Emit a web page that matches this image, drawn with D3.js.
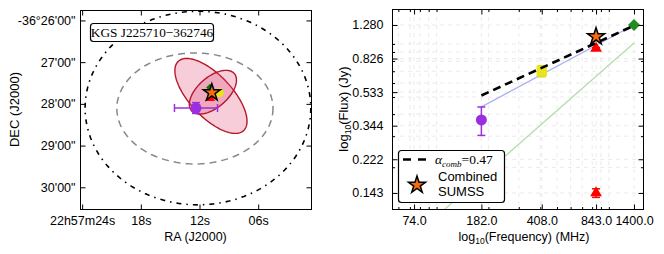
<!DOCTYPE html>
<html><head><meta charset="utf-8">
<script src="https://cdn.jsdelivr.net/npm/d3@7"></script>
<style>body{margin:0;background:#fff}svg{display:block}</style>
</head><body>
<svg id="c" width="664" height="254"></svg>
<script>
// ---------- Left panel data (RA seconds of 22h57m, Dec arcmin of -36°) ----------
const raTickVals = [24, 18, 12, 6];
const raTickLabels = ["22h57m24s", "18s", "12s", "06s"];
const decTickVals = [26, 27, 28, 29, 30];
const decTickLabels = ["-36°26'00\"", "27'00\"", "28'00\"", "29'00\"", "30'00\""];
const sourceName = "KGS J225710\u2212362746";
// ellipses: [raCentre, decCentre, semiMajor', semiMinor', angle deg]
const searchCircle = [12.16, 28.10, 2.32, 2.32, 0];
const beamEllipse = [12.47, 28.11, 1.605, 1.33, 0];
const pinkEllipses = [[10.83, 27.81, 1.07, 0.46, 53], [10.63, 27.72, 0.63, 0.335, -49]];
const posPurple = {ra: 12.36, dec: 28.10, raErr: 2.2, decErr: 0.13};
const posYellow = {ra: 9.98, dec: 27.73};
const posRed = {ra: 10.93, dec: 27.86};
const posGreen = {ra: 10.93, dec: 27.61};
const posStar = {ra: 10.74, dec: 27.73};

// ---------- Right panel data ----------
const freqTicks = [74.0, 182.0, 408.0, 843.0, 1400.0];
const fluxTicks = [0.143, 0.222, 0.344, 0.533, 0.826, 1.280];
const freqMinor = [60,70,80,90,100,200,300,400,500,600,700,800,900,1000];
const fluxMinor = [0.2,0.3,0.4,0.5,0.6,0.7,0.8,0.9,1.0];
const purpleFreq = 182, purpleFlux = 0.371, purpleErr = 0.068;
const yellowFreq = 408, yellowFlux = 0.702, yellowErr = 0.05;
const redFreq = [843, 843], redFlux = [0.944, 0.143], redErr = [0.01, 0.008];
const starFreq = 843, starFlux = 1.10;
const greenFreq = 1400, greenFlux = 1.28;
const fitFreq = [182, 1400], fitFlux = [0.51, 1.27];        // alpha_comb dashed
const blueFreq = [182, 1400], blueFlux = [0.44, 1.28];
const lgreenFreq = [74, 1400], lgreenFlux = [0.0815, 1.012];
const alphaText = "0.47";

const svg = d3.select("#c");
const SANS = "'Liberation Sans', Arial, sans-serif";
const SERIF = "'Liberation Serif', 'DejaVu Serif', serif";
const FS = 12.5;

// ================= LEFT PANEL =================
const L = {l: 80, r: 311, t: 10, b: 209};
const xL = d3.scaleLinear().domain([24.22, 0.6]).range([L.l, L.r]);
const yL = d3.scaleLinear().domain([25.75, 30.52]).range([L.t, L.b]);
const arcPerSec = 0.25 * Math.cos((36 + 28 / 60) * Math.PI / 180);

svg.append("clipPath").attr("id", "clipL").append("rect")
  .attr("x", L.l).attr("y", L.t).attr("width", L.r - L.l).attr("height", L.b - L.t);
const gL = svg.append("g").attr("clip-path", "url(#clipL)");

function ellPts(e) {
  const [ra, dec, a, b, ang] = e, th = ang * Math.PI / 180, pts = [];
  for (let i = 0; i <= 180; i++) {
    const t = i / 180 * 2 * Math.PI;
    const x = a * Math.cos(t) * Math.cos(th) - b * Math.sin(t) * Math.sin(th);
    const y = a * Math.cos(t) * Math.sin(th) + b * Math.sin(t) * Math.cos(th);
    pts.push([xL(ra - x / arcPerSec), yL(dec + y)]);
  }
  return pts;
}
const lineGen = d3.line();
gL.append("path").attr("d", lineGen(ellPts(searchCircle)))
  .attr("fill", "none").attr("stroke", "#000").attr("stroke-width", 1.6)
  .attr("stroke-dasharray", "5,5,1.5,5");
gL.append("path").attr("d", lineGen(ellPts(beamEllipse)))
  .attr("fill", "none").attr("stroke", "#888").attr("stroke-width", 1.5)
  .attr("stroke-dasharray", "7,5");
pinkEllipses.forEach(e => {
  gL.append("path").attr("d", lineGen(ellPts(e)) + "Z")
    .attr("fill", "rgb(222,70,115)").attr("fill-opacity", 0.27)
    .attr("stroke", "#b5172a").attr("stroke-width", 1.4);
});
// markers
gL.append("circle").attr("cx", xL(posYellow.ra)).attr("cy", yL(posYellow.dec)).attr("r", 4.5).attr("fill", "#e8e810");
gL.append("path").attr("d", d3.symbol(d3.symbolTriangle, 45)())
  .attr("transform", `translate(${xL(posRed.ra)},${yL(posRed.dec)})`).attr("fill", "red");
gL.append("path").attr("d", d3.symbol(d3.symbolSquare, 30)())
  .attr("transform", `translate(${xL(posGreen.ra)},${yL(posGreen.dec)}) rotate(45)`).attr("fill", "green");
gL.append("path").attr("d", d3.symbol(d3.symbolStar, 90)())
  .attr("transform", `translate(${xL(posStar.ra)},${yL(posStar.dec)})`)
  .attr("fill", "#f46d0e").attr("stroke", "#000").attr("stroke-width", 1.5);
// purple with error bars
const PUR = "#9a2fe0";
{
  const cx = xL(posPurple.ra), cy = yL(posPurple.dec);
  const x1 = xL(posPurple.ra + posPurple.raErr), x2 = xL(posPurple.ra - posPurple.raErr);
  const y1 = yL(posPurple.dec - posPurple.decErr), y2 = yL(posPurple.dec + posPurple.decErr);
  const g = gL.append("g").attr("stroke", PUR).attr("stroke-width", 1.5);
  g.append("line").attr("x1", x1).attr("x2", x2).attr("y1", cy).attr("y2", cy);
  g.append("line").attr("x1", x1).attr("x2", x1).attr("y1", cy - 4).attr("y2", cy + 4);
  g.append("line").attr("x1", x2).attr("x2", x2).attr("y1", cy - 4).attr("y2", cy + 4);
  g.append("line").attr("x1", cx).attr("x2", cx).attr("y1", y1).attr("y2", y2);
  g.append("line").attr("x1", cx - 4).attr("x2", cx + 4).attr("y1", y1).attr("y2", y1);
  g.append("line").attr("x1", cx - 4).attr("x2", cx + 4).attr("y1", y2).attr("y2", y2);
  gL.append("circle").attr("cx", cx).attr("cy", cy).attr("r", 5.5).attr("fill", PUR);
}
// title box
{
  const g = svg.append("g");
  g.append("rect").attr("x", 90.5).attr("y", 23.5).attr("width", 123).attr("height", 18).attr("rx", 3)
    .attr("fill", "#fff").attr("stroke", "#000").attr("stroke-width", 1.2);
  g.append("text").attr("x", 152).attr("y", 37).attr("text-anchor", "middle")
    .attr("font-family", SERIF).attr("font-size", 13.3).text(sourceName);
}
// frame & ticks
function frame(box) {
  svg.append("rect").attr("x", box.l + 0.5).attr("y", box.t + 0.5)
    .attr("width", box.r - box.l).attr("height", box.b - box.t)
    .attr("fill", "none").attr("stroke", "#000").attr("stroke-width", 1);
}
frame(L);
{
  const axB = d3.axisBottom(xL).tickValues(raTickVals).tickFormat((d, i) => raTickLabels[i]).tickSizeInner(-5).tickSizeOuter(0).tickPadding(7);
  const axT = d3.axisTop(xL).tickValues(raTickVals).tickFormat("").tickSizeInner(-5).tickSizeOuter(0);
  const axLft = d3.axisLeft(yL).tickValues(decTickVals).tickFormat((d, i) => decTickLabels[i]).tickSizeInner(-5).tickSizeOuter(0).tickPadding(5);
  const axR = d3.axisRight(yL).tickValues(decTickVals).tickFormat("").tickSizeInner(-5).tickSizeOuter(0);
  const style = g => { g.select(".domain").remove(); g.selectAll("text").attr("font-family", SANS).attr("font-size", FS).attr("fill", "#000"); };
  svg.append("g").attr("transform", `translate(0,${L.b + 0.5})`).call(axB).call(style);
  svg.append("g").attr("transform", `translate(0,${L.t + 0.5})`).call(axT).call(style);
  svg.append("g").attr("transform", `translate(${L.l + 0.5},0)`).call(axLft).call(style);
  svg.append("g").attr("transform", `translate(${L.r + 0.5},0)`).call(axR).call(style);
}
svg.append("text").attr("x", (L.l + L.r) / 2).attr("y", 241).attr("text-anchor", "middle")
  .attr("font-family", SANS).attr("font-size", 12.5).text("RA (J2000)");
svg.append("text").attr("transform", `translate(19,${(L.t + L.b) / 2}) rotate(-90)`).attr("text-anchor", "middle")
  .attr("font-family", SANS).attr("font-size", 13).text("DEC (J2000)");

// ================= RIGHT PANEL =================
const R = {l: 392, r: 643, t: 9, b: 209};
const xR = d3.scaleLog().domain([55.1, 1579]).range([R.l, R.r]);
const yR = d3.scaleLog().domain([0.116, 1.577]).range([R.b, R.t]);
svg.append("clipPath").attr("id", "clipR").append("rect")
  .attr("x", R.l).attr("y", R.t).attr("width", R.r - R.l).attr("height", R.b - R.t);
const gR = svg.append("g").attr("clip-path", "url(#clipR)");
// grid
const gridG = gR.append("g").attr("stroke", "#e6e6e6").attr("stroke-width", 0.8).attr("stroke-dasharray", "4,4");
freqTicks.concat(freqMinor).forEach(f => gridG.append("line").attr("x1", xR(f)).attr("x2", xR(f)).attr("y1", R.t).attr("y2", R.b));
fluxTicks.concat(fluxMinor).forEach(s => gridG.append("line").attr("y1", yR(s)).attr("y2", yR(s)).attr("x1", R.l).attr("x2", R.r));

const lg = d3.line().x(d => xR(d[0])).y(d => yR(d[1]));
gR.append("path").attr("d", lg(lgreenFreq.map((f, i) => [f, lgreenFlux[i]])))
  .attr("fill", "none").attr("stroke", "#b4dcaa").attr("stroke-width", 1.2);
gR.append("path").attr("d", lg(blueFreq.map((f, i) => [f, blueFlux[i]])))
  .attr("fill", "none").attr("stroke", "#aab0f2").attr("stroke-width", 1.3);

function errBar(g, f, s, e, col, cap) {
  const x = xR(f);
  g.append("line").attr("x1", x).attr("x2", x).attr("y1", yR(s - e)).attr("y2", yR(s + e)).attr("stroke", col).attr("stroke-width", 1.5);
  [s - e, s + e].forEach(v => g.append("line").attr("x1", x - cap).attr("x2", x + cap).attr("y1", yR(v)).attr("y2", yR(v)).attr("stroke", col).attr("stroke-width", 1.5));
}
errBar(gR, purpleFreq, purpleFlux, purpleErr, PUR, 4);
gR.append("circle").attr("cx", xR(purpleFreq)).attr("cy", yR(purpleFlux)).attr("r", 5.5).attr("fill", PUR);
errBar(gR, yellowFreq, yellowFlux, yellowErr, "#d8d810", 4);
gR.append("path").attr("d", d3.symbol(d3.symbolSquare, 110)())
  .attr("transform", `translate(${xR(yellowFreq)},${yR(yellowFlux)})`).attr("fill", "#e6e61a");
redFreq.forEach((f, i) => {
  errBar(gR, f, redFlux[i], redErr[i], "red", 4);
  gR.append("path").attr("d", d3.symbol(d3.symbolTriangle, 60)())
    .attr("transform", `translate(${xR(f)},${yR(redFlux[i])})`).attr("fill", "red");
});
gR.append("path").attr("d", d3.symbol(d3.symbolSquare, 72)())
  .attr("transform", `translate(${xR(greenFreq)},${yR(greenFlux)}) rotate(45)`).attr("fill", "#1e8c1e");
gR.append("path").attr("d", lg(fitFreq.map((f, i) => [f, fitFlux[i]])))
  .attr("fill", "none").attr("stroke", "#000").attr("stroke-width", 2.6).attr("stroke-dasharray", "8,5");
gR.append("path").attr("d", d3.symbol(d3.symbolStar, 90)())
  .attr("transform", `translate(${xR(starFreq)},${yR(starFlux)})`)
  .attr("fill", "#f46d0e").attr("stroke", "#000").attr("stroke-width", 1.5);

frame(R);
{
  const style = g => { g.select(".domain").remove(); g.selectAll("text").attr("font-family", SANS).attr("font-size", FS).attr("fill", "#000"); };
  const fmtX = d3.format(".1f"), fmtY = d3.format(".3f");
  svg.append("g").attr("transform", `translate(0,${R.b + 0.5})`)
    .call(d3.axisBottom(xR).tickValues(freqTicks).tickFormat(fmtX).tickSizeInner(-5).tickSizeOuter(0).tickPadding(7)).call(style);
  svg.append("g").attr("transform", `translate(0,${R.b + 0.5})`)
    .call(d3.axisBottom(xR).tickValues(freqMinor).tickFormat("").tickSizeInner(-2.5).tickSizeOuter(0)).call(style);
  svg.append("g").attr("transform", `translate(0,${R.t + 0.5})`)
    .call(d3.axisTop(xR).tickValues(freqTicks).tickFormat("").tickSizeInner(-5).tickSizeOuter(0)).call(style);
  svg.append("g").attr("transform", `translate(0,${R.t + 0.5})`)
    .call(d3.axisTop(xR).tickValues(freqMinor).tickFormat("").tickSizeInner(-2.5).tickSizeOuter(0)).call(style);
  svg.append("g").attr("transform", `translate(${R.l + 0.5},0)`)
    .call(d3.axisLeft(yR).tickValues(fluxTicks).tickFormat(fmtY).tickSizeInner(-5).tickSizeOuter(0).tickPadding(9)).call(style);
  svg.append("g").attr("transform", `translate(${R.l + 0.5},0)`)
    .call(d3.axisLeft(yR).tickValues(fluxMinor).tickFormat("").tickSizeInner(-2.5).tickSizeOuter(0)).call(style);
  svg.append("g").attr("transform", `translate(${R.r + 0.5},0)`)
    .call(d3.axisRight(yR).tickValues(fluxTicks).tickFormat("").tickSizeInner(-5).tickSizeOuter(0)).call(style);
  svg.append("g").attr("transform", `translate(${R.r + 0.5},0)`)
    .call(d3.axisRight(yR).tickValues(fluxMinor).tickFormat("").tickSizeInner(-2.5).tickSizeOuter(0)).call(style);
}
{
  const t = svg.append("text").attr("x", 524).attr("y", 241).attr("text-anchor", "middle")
    .attr("font-family", SANS).attr("font-size", 12.5);
  t.append("tspan").text("log");
  t.append("tspan").attr("font-size", 8.5).attr("dy", 3).text("10");
  t.append("tspan").attr("dy", -3).text("(Frequency) (MHz)");
  const t2 = svg.append("text").attr("transform", `translate(348,${(R.t + R.b) / 2}) rotate(-90)`).attr("text-anchor", "middle")
    .attr("font-family", SANS).attr("font-size", 13);
  t2.append("tspan").text("log");
  t2.append("tspan").attr("font-size", 8.5).attr("dy", 3).text("10");
  t2.append("tspan").attr("dy", -3).text("(Flux) (Jy)");
}
// legend
{
  const g = svg.append("g");
  g.append("rect").attr("x", 398.5).attr("y", 150.5).attr("width", 106).attr("height", 52).attr("rx", 3)
    .attr("fill", "#fff").attr("stroke", "#000").attr("stroke-width", 1.2);
  g.append("line").attr("x1", 403).attr("x2", 426).attr("y1", 159.5).attr("y2", 159.5)
    .attr("stroke", "#000").attr("stroke-width", 2.6).attr("stroke-dasharray", "8,7");
  const t = g.append("text").attr("x", 435).attr("y", 164).attr("font-family", SERIF).attr("font-size", 13.5);
  t.append("tspan").attr("font-style", "italic").text("α");
  t.append("tspan").attr("font-style", "italic").attr("font-size", 9).attr("dy", 2.5).text("comb");
  t.append("tspan").attr("dy", -2.5).text("=" + alphaText);
  g.append("path").attr("d", d3.symbol(d3.symbolStar, 90)())
    .attr("transform", `translate(417,185)`).attr("fill", "#f46d0e").attr("stroke", "#000").attr("stroke-width", 1.5);
  g.append("text").attr("x", 438).attr("y", 181).attr("font-family", SANS).attr("font-size", 13).text("Combined");
  g.append("text").attr("x", 438).attr("y", 196).attr("font-family", SANS).attr("font-size", 13).text("SUMSS");
}
</script>
</body></html>
